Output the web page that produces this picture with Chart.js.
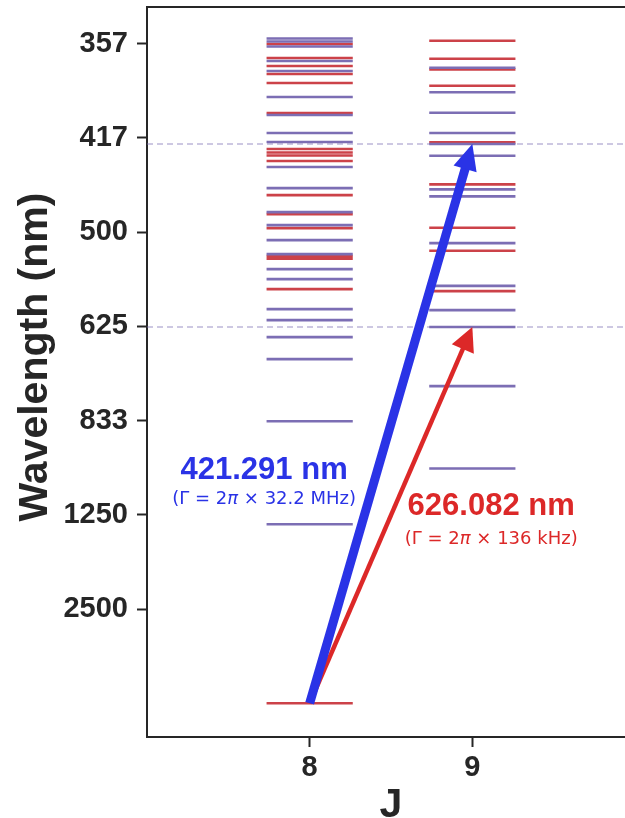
<!DOCTYPE html>
<html>
<head>
<meta charset="utf-8">
<script src="https://cdn.jsdelivr.net/npm/chart.js@4.4.0/dist/chart.umd.min.js"></script>
<style>
  html, body { margin: 0; padding: 0; background: #fff; overflow: hidden; }
  canvas { display: block; }
</style>
</head>
<body>
<canvas id="levels" width="635" height="818"></canvas>
<script>
// level energies (cm^-1)
const oddJ8 = [28213, 28085, 27873, 27257, 26833, 25729, 24965, 24200, 23818, 22757,
  21865, 20846, 20294, 19658, 19063, 18426, 18002, 16728, 16261, 15539, 14605, 11973, 7600];
const evenJ8 = [27979, 27385, 27045, 26705, 26323, 25050, 23521, 23373, 23245, 23012,
  21568, 20761, 20167, 18978, 18872, 17577, 0];
const oddJ9 = [26973, 25929, 25062, 24200, 23737, 23237, 21810, 21513, 19530, 17717,
  16686, 15972, 13459, 9964];
const evenJ9 = [28119, 27355, 26905, 26209, 23806, 22022, 20180, 19203, 17492];

const xTickValues = [8, 9];
const yTickValues = [4000, 8000, 12000, 16000, 20000, 24000, 28000];
const yTickLabels = ['2500', '1250', '833', '625', '500', '417', '357'];
const yTitle = 'Wavelength (nm)';

// transitions (nm) and their labels
const blueNm = 421.291;
const redNm = 626.082;
const blueLabel = '421.291 nm';
const blueWidthText = ['(Γ = 2', 'π', ' × 32.2 MHz)'];
const redLabel = '626.082 nm';
const redWidthText = ['(Γ = 2', 'π', ' × 136 kHz)'];

const ODD = '#7c6eb4';
const EVEN = '#cc4249';
const BLUE = '#2a33e6';
const RED = '#dc2828';
const DARK = '#262626';
const halfW = 0.265;
const SANS = '"Liberation Sans", Arial, sans-serif';

function toEnergy(nm) {
  return 1e7 / nm;
}

function segments(j, energies) {
  const pts = [];
  for (const e of energies) {
    pts.push({ x: j - halfW, y: e }, { x: j + halfW, y: e }, { x: j, y: null });
  }
  return pts;
}

function levelSet(data, color) {
  return { data: data, borderColor: color, borderWidth: 2.6, pointRadius: 0, spanGaps: false };
}

function dashed(nm) {
  return {
    data: [{ x: 7, y: toEnergy(nm) }, { x: 10, y: toEnergy(nm) }],
    borderColor: 'rgba(124, 110, 180, 0.5)',
    borderWidth: 1.5,
    borderDash: [6, 4],
    pointRadius: 0,
  };
}

function drawArrow(ctx, x0, y0, x1, y1, color, width, headLen, headW) {
  const len = Math.hypot(x1 - x0, y1 - y0);
  const ux = (x1 - x0) / len;
  const uy = (y1 - y0) / len;
  const bx = x1 - ux * headLen;
  const by = y1 - uy * headLen;
  ctx.save();
  ctx.strokeStyle = color;
  ctx.fillStyle = color;
  ctx.lineWidth = width;
  ctx.lineCap = 'butt';
  ctx.beginPath();
  ctx.moveTo(x0, y0);
  ctx.lineTo(bx + ux, by + uy);
  ctx.stroke();
  ctx.beginPath();
  ctx.moveTo(x1, y1);
  ctx.lineTo(bx - uy * headW / 2, by + ux * headW / 2);
  ctx.lineTo(bx + uy * headW / 2, by - ux * headW / 2);
  ctx.closePath();
  ctx.fill();
  ctx.restore();
}

// text made of pieces, the middle one italic
function drawPieces(ctx, pieces, cx, cy, color, size) {
  const fonts = [`${size}px "DejaVu Sans"`, `italic ${size}px "DejaVu Sans"`, `${size}px "DejaVu Sans"`];
  let total = 0;
  pieces.forEach((p, i) => {
    ctx.font = fonts[i];
    total += ctx.measureText(p).width;
  });
  let x = cx - total / 2;
  ctx.fillStyle = color;
  ctx.textAlign = 'left';
  ctx.textBaseline = 'middle';
  pieces.forEach((p, i) => {
    ctx.font = fonts[i];
    ctx.fillText(p, x, cy);
    x += ctx.measureText(p).width;
  });
}

const extras = {
  id: 'extras',
  afterDatasetsDraw(chart) {
    const { ctx, chartArea, scales: { x, y } } = chart;
    // top spine
    ctx.save();
    ctx.strokeStyle = DARK;
    ctx.lineWidth = 2;
    ctx.beginPath();
    ctx.moveTo(chartArea.left - 1, chartArea.top);
    ctx.lineTo(chartArea.right, chartArea.top);
    ctx.stroke();
    ctx.restore();

    const x0 = x.getPixelForValue(8);
    const y0 = y.getPixelForValue(0);
    drawArrow(ctx, x0, y0, x.getPixelForValue(9), y.getPixelForValue(toEnergy(redNm)), RED, 4.5, 24, 24);
    drawArrow(ctx, x0, y0, x.getPixelForValue(9), y.getPixelForValue(toEnergy(blueNm)), BLUE, 9, 26, 24);

    ctx.save();
    ctx.textAlign = 'center';
    ctx.textBaseline = 'middle';
    ctx.font = `bold 31px ${SANS}`;
    ctx.fillStyle = BLUE;
    ctx.fillText(blueLabel, x.getPixelForValue(7.72), y.getPixelForValue(9892));
    ctx.fillStyle = RED;
    ctx.fillText(redLabel, x.getPixelForValue(9.116), y.getPixelForValue(8343));
    drawPieces(ctx, blueWidthText, x.getPixelForValue(7.72), y.getPixelForValue(8640), BLUE, 18);
    drawPieces(ctx, redWidthText, x.getPixelForValue(9.116), y.getPixelForValue(6963), RED, 18);
    ctx.restore();

    // y axis title, centred like the original
    ctx.save();
    ctx.translate(47, 357);
    ctx.rotate(-Math.PI / 2);
    ctx.fillStyle = DARK;
    ctx.font = `bold 41px ${SANS}`;
    ctx.textAlign = 'center';
    ctx.textBaseline = 'alphabetic';
    ctx.fillText(yTitle, 0, 0);
    ctx.restore();
  }
};

const tickFont = { family: SANS, weight: 'bold', size: 29 };
const titleFont = { family: SANS, weight: 'bold', size: 41 };

new Chart(document.getElementById('levels'), {
  type: 'line',
  data: {
    datasets: [
      dashed(blueNm),
      dashed(redNm),
      levelSet(segments(8, oddJ8), ODD),
      levelSet(segments(9, oddJ9), ODD),
      levelSet(segments(8, evenJ8), EVEN),
      levelSet(segments(9, evenJ9), EVEN),
    ],
  },
  options: {
    responsive: false,
    animation: false,
    layout: { padding: { top: 7, right: 0, bottom: 0, left: 0 } },
    plugins: { legend: { display: false }, tooltip: { enabled: false } },
    scales: {
      x: {
        type: 'linear',
        min: 7,
        max: 10,
        afterBuildTicks: s => { s.ticks = xTickValues.map(v => ({ value: v })); },
        afterFit: s => { s.height = 81; s.paddingLeft = 0; s.paddingRight = 0; },
        grid: { drawOnChartArea: false, tickLength: 10, tickWidth: 2, tickColor: DARK },
        border: { color: DARK, width: 2 },
        ticks: { color: DARK, font: tickFont, padding: 4, maxRotation: 0 },
        title: { display: true, text: 'J', color: DARK, font: titleFont, padding: { top: 0, bottom: -12 } },
      },
      y: {
        type: 'linear',
        min: -1430,
        max: 29550,
        afterBuildTicks: s => { s.ticks = yTickValues.map(v => ({ value: v })); },
        afterFit: s => { s.width = 147; s.paddingTop = 0; s.paddingBottom = 0; },
        grid: { drawOnChartArea: false, tickLength: 10, tickWidth: 2, tickColor: DARK },
        border: { color: DARK, width: 2 },
        ticks: {
          color: DARK,
          font: tickFont,
          padding: 9,
          callback: v => yTickLabels[yTickValues.indexOf(v)],
        },
      },
    },
  },
  plugins: [extras],
});
</script>
</body>
</html>
